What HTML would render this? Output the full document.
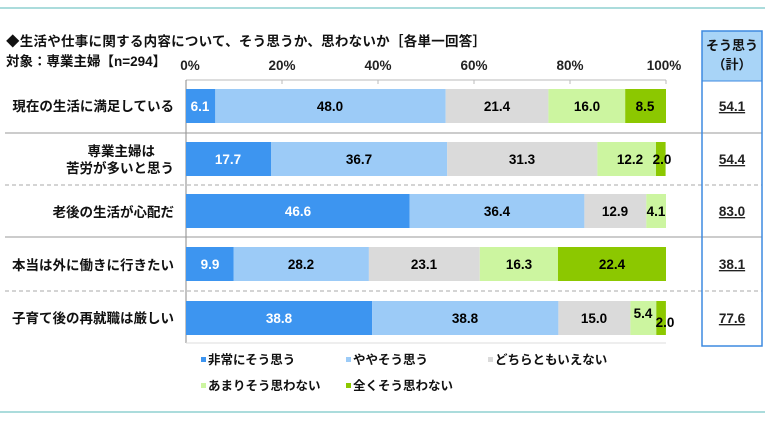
<!DOCTYPE html>
<html><head><meta charset="utf-8"><style>
body{margin:0;background:#fff}
svg text{font-family:"Liberation Sans","Noto Sans CJK JP",sans-serif;font-weight:bold}
</style></head><body>
<svg width="765" height="422" xmlns="http://www.w3.org/2000/svg">
<line x1="0" y1="8" x2="765" y2="8" stroke="#8fd0d0" stroke-width="1.5"/>
<line x1="0" y1="412" x2="765" y2="412" stroke="#8fd0d0" stroke-width="1.5"/>
<text x="6" y="46" font-size="13.5" fill="#111" textLength="480">◆生活や仕事に関する内容について、そう思うか、思わないか［各単一回答］</text>
<text x="6" y="66" font-size="13.5" fill="#111">対象：専業主婦【n=294】</text>
<g font-size="13.5" fill="#222" text-anchor="middle">
<text x="190" y="70">0%</text><text x="282" y="70">20%</text><text x="378" y="70">40%</text><text x="474" y="70">60%</text><text x="570" y="70">80%</text><text x="664" y="70">100%</text>
</g>
<line x1="186" y1="80" x2="666" y2="80" stroke="#bbb"/>
<g stroke="#bbb"><line x1="282" y1="80" x2="282" y2="84"/><line x1="378" y1="80" x2="378" y2="84"/><line x1="474" y1="80" x2="474" y2="84"/><line x1="570" y1="80" x2="570" y2="84"/><line x1="666" y1="80" x2="666" y2="84"/></g>
<line x1="186" y1="80" x2="186" y2="343" stroke="#888"/>
<line x1="186" y1="343" x2="666" y2="343" stroke="#ddd"/>
<g stroke="#999"><line x1="5" y1="133" x2="762" y2="133"/><line x1="5" y1="237" x2="762" y2="237"/></g>
<g stroke="#aaa" stroke-dasharray="4,3"><line x1="5" y1="185" x2="762" y2="185"/><line x1="5" y1="291" x2="762" y2="291"/></g>
<g font-size="13.5" fill="#111" text-anchor="end">
<text x="174" y="111">現在の生活に満足している</text>
<text x="155" y="156">専業主婦は</text><text x="174" y="173">苦労が多いと思う</text>
<text x="174" y="217">老後の生活が心配だ</text>
<text x="174" y="270">本当は外に働きに行きたい</text>
<text x="174" y="323">子育て後の再就職は厳しい</text>
</g>
<g font-size="13.5">
<rect x="186" y="89" width="29.3" height="34" fill="#3d95f0"/><rect x="215.3" y="89" width="230.4" height="34" fill="#9ccbf7"/><rect x="445.7" y="89" width="102.7" height="34" fill="#dadada"/><rect x="548.4" y="89" width="76.8" height="34" fill="#ccf5a0"/><rect x="625.2" y="89" width="40.8" height="34" fill="#8cc800"/>
<text x="200" y="111" fill="#fff" text-anchor="middle">6.1</text><text x="330" y="111" text-anchor="middle">48.0</text><text x="497" y="111" text-anchor="middle">21.4</text><text x="587" y="111" text-anchor="middle">16.0</text><text x="645" y="111" text-anchor="middle">8.5</text>
<rect x="186" y="142" width="85" height="34" fill="#3d95f0"/><rect x="271" y="142" width="176.2" height="34" fill="#9ccbf7"/><rect x="447.2" y="142" width="150.2" height="34" fill="#dadada"/><rect x="597.4" y="142" width="58.6" height="34" fill="#ccf5a0"/><rect x="656" y="142" width="9.6" height="34" fill="#8cc800"/>
<text x="228" y="164" fill="#fff" text-anchor="middle">17.7</text><text x="359" y="164" text-anchor="middle">36.7</text><text x="522" y="164" text-anchor="middle">31.3</text><text x="630" y="164" text-anchor="middle">12.2</text><text x="662" y="164" text-anchor="middle">2.0</text>
<rect x="186" y="194" width="223.7" height="34" fill="#3d95f0"/><rect x="409.7" y="194" width="174.7" height="34" fill="#9ccbf7"/><rect x="584.4" y="194" width="61.9" height="34" fill="#dadada"/><rect x="646.3" y="194" width="19.7" height="34" fill="#ccf5a0"/>
<text x="298" y="216" fill="#fff" text-anchor="middle">46.6</text><text x="497" y="216" text-anchor="middle">36.4</text><text x="615" y="216" text-anchor="middle">12.9</text><text x="656" y="216" text-anchor="middle">4.1</text>
<rect x="186" y="247" width="47.5" height="34" fill="#3d95f0"/><rect x="233.5" y="247" width="135.4" height="34" fill="#9ccbf7"/><rect x="368.9" y="247" width="110.9" height="34" fill="#dadada"/><rect x="479.8" y="247" width="78.2" height="34" fill="#ccf5a0"/><rect x="558" y="247" width="108" height="34" fill="#8cc800"/>
<text x="210" y="269" fill="#fff" text-anchor="middle">9.9</text><text x="301" y="269" text-anchor="middle">28.2</text><text x="424" y="269" text-anchor="middle">23.1</text><text x="519" y="269" text-anchor="middle">16.3</text><text x="612" y="269" text-anchor="middle">22.4</text>
<rect x="186" y="301" width="186.2" height="34" fill="#3d95f0"/><rect x="372.2" y="301" width="186.2" height="34" fill="#9ccbf7"/><rect x="558.4" y="301" width="72" height="34" fill="#dadada"/><rect x="630.4" y="301" width="25.9" height="34" fill="#ccf5a0"/><rect x="656.3" y="301" width="9.6" height="34" fill="#8cc800"/>
<text x="279" y="323" fill="#fff" text-anchor="middle">38.8</text><text x="465" y="323" text-anchor="middle">38.8</text><text x="594" y="323" text-anchor="middle">15.0</text><text x="643" y="318" text-anchor="middle">5.4</text><text x="665" y="327" text-anchor="middle">2.0</text>
</g>
<rect x="702" y="31" width="60" height="50" fill="#a8d4f7"/>
<rect x="702" y="31" width="60" height="315" fill="none" stroke="#3d8ae0" stroke-width="1.5"/>
<line x1="702" y1="81" x2="762" y2="81" stroke="#3d8ae0"/>
<g font-size="13" fill="#111" text-anchor="middle">
<text x="732" y="50">そう思う</text><text x="732" y="69">（計）</text>
</g>
<g font-size="13.5" fill="#222" text-anchor="middle" text-decoration="underline">
<text x="732" y="111">54.1</text><text x="732" y="164">54.4</text><text x="732" y="216">83.0</text><text x="732" y="269">38.1</text><text x="732" y="323">77.6</text>
</g>
<g font-size="12.5" fill="#111">
<rect x="201" y="357" width="5" height="5" fill="#3d95f0"/><text x="208" y="364">非常にそう思う</text>
<rect x="346" y="357" width="5" height="5" fill="#9ccbf7"/><text x="353" y="364">ややそう思う</text>
<rect x="488" y="357" width="5" height="5" fill="#dadada"/><text x="495" y="364">どちらともいえない</text>
<rect x="201" y="383" width="5" height="5" fill="#ccf5a0"/><text x="208" y="390">あまりそう思わない</text>
<rect x="346" y="383" width="5" height="5" fill="#8cc800"/><text x="353" y="390">全くそう思わない</text>
</g>
</svg>
</body></html>
